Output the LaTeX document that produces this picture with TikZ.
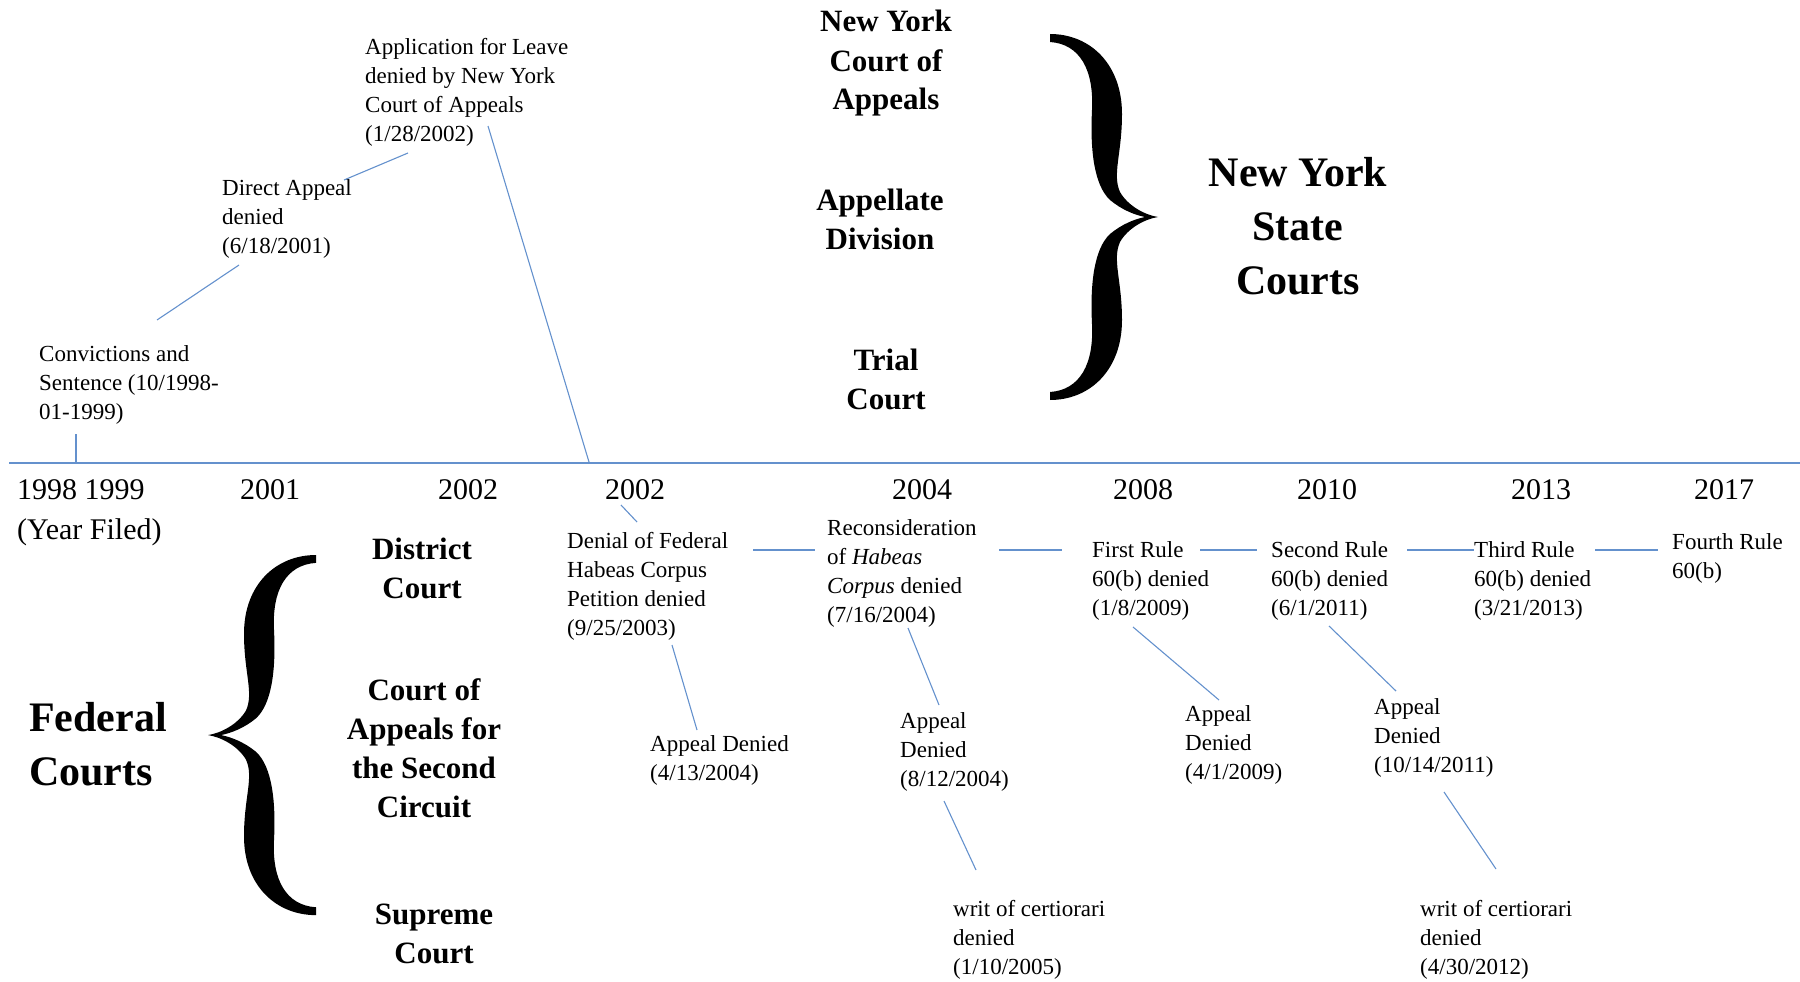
\documentclass[tikz,border=0pt]{standalone}
\usepackage{fontspec}
\setmainfont{Liberation Serif}
\definecolor{lineblue}{RGB}{100,145,205}
\begin{document}
\begin{tikzpicture}[x=1pt,y=-1pt,
  ev/.style={anchor=base west, align=left, inner sep=0pt, font=\fontsize{23}{29}\selectfont},
  yr/.style={anchor=base, inner sep=0pt, font=\fontsize{30}{38}\selectfont},
  yrl/.style={anchor=base west, align=left, inner sep=0pt, font=\fontsize{30}{40}\selectfont},
  crt/.style={anchor=base, align=center, inner sep=0pt, font=\bfseries\fontsize{31}{39}\selectfont},
  big/.style={anchor=base, align=center, inner sep=0pt, font=\bfseries\fontsize{42}{54}\selectfont},
  conn/.style={draw=lineblue, line width=1.1pt},
  axis/.style={draw=lineblue, line width=1.6pt},
  bracefill/.style={fill=black, draw=none},
]
\useasboundingbox (0,0) rectangle (1800,982);

% ---------- braces ----------
\def\bracepath{(0,0)
 .. controls (40,0) and (72,30) .. (72,80)
 .. controls (72,120) and (62,140) .. (70,158)
 .. controls (78,172) and (95,181) .. (108,183)
 .. controls (95,185) and (78,194) .. (70,208)
 .. controls (62,226) and (72,246) .. (72,286)
 .. controls (72,336) and (40,366) .. (0,366)
 -- (0,358)
 .. controls (30,356) and (44,330) .. (42,290)
 .. controls (40,250) and (44,215) .. (60,200)
 .. controls (72,190) and (85,185) .. (95,183)
 .. controls (85,181) and (72,176) .. (60,166)
 .. controls (44,151) and (40,116) .. (42,76)
 .. controls (44,36) and (30,10) .. (0,8)
 -- cycle}
\begin{scope}[shift={(1050,34)}]
  \path[bracefill] \bracepath;
\end{scope}
\begin{scope}[shift={(316,555)}, xscale=-1, yscale=0.984]
  \path[bracefill] \bracepath;
\end{scope}

% ---------- timeline ----------
\coordinate (tl0) at (9,463);
\coordinate (tl1) at (1800,463);
\draw[axis] (tl0) -- (tl1);

% ---------- year labels (anchor = baseline of last line) ----------
\node[yrl] (y98) at (17,539) {1998 1999\\(Year Filed)};
\node[yr] (y01) at (270,499) {2001};
\node[yr] (y02a) at (468,499) {2002};
\node[yr] (y02b) at (635,499) {2002};
\node[yr] (y04) at (922,499) {2004};
\node[yr] (y08) at (1143,499) {2008};
\node[yr] (y10) at (1327,499) {2010};
\node[yr] (y13) at (1541,499) {2013};
\node[yr] (y17) at (1724,499) {2017};

% ---------- court headings ----------
\node[crt] (nyca) at (886,110) {New York\\Court of\\Appeals};
\node[crt] (appdiv) at (880,249) {Appellate\\Division};
\node[crt] (trial) at (886,409) {Trial\\Court};
\node[big] (nysc) at (1298,294) {New York\\State\\Courts};

\node[crt] (dist) at (422,598) {District\\Court};
\node[crt] (coa2) at (424,817) {Court of\\Appeals for\\the Second\\Circuit};
\node[crt] (scotus) at (434,963) {Supreme\\Court};
\node[big, anchor=base west, align=left] (fed) at (29,785) {Federal\\Courts};

% ---------- state events ----------
\node[ev] (conv) at (39,419) {Convictions and\\Sentence (10/1998-\\01-1999)};
\node[ev] (direct) at (222,253) {Direct Appeal\\denied\\(6/18/2001)};
\node[ev] (leave) at (365,141) {Application for Leave\\denied by New York\\Court of Appeals\\(1/28/2002)};

% ---------- federal events ----------
\node[ev] (denial) at (567,635) {Denial of Federal\\Habeas Corpus\\Petition denied\\(9/25/2003)};
\node[ev] (ap1) at (650,780) {Appeal Denied\\(4/13/2004)};
\node[ev] (recon) at (827,622) {Reconsideration\\of \textit{Habeas}\\\textit{Corpus} denied\\(7/16/2004)};
\node[ev] (ap2) at (900,786) {Appeal\\Denied\\(8/12/2004)};
\node[ev] (writ1) at (953,974) {writ of certiorari\\denied\\(1/10/2005)};
\node[ev] (r1) at (1092,615) {First Rule\\60(b) denied\\(1/8/2009)};
\node[ev] (ap3) at (1185,779) {Appeal\\Denied\\(4/1/2009)};
\node[ev] (r2) at (1271,615) {Second Rule\\60(b) denied\\(6/1/2011)};
\node[ev] (ap4) at (1374,772) {Appeal\\Denied\\(10/14/2011)};
\node[ev] (writ2) at (1420,974) {writ of certiorari\\denied\\(4/30/2012)};
\node[ev] (r3) at (1474,615) {Third Rule\\60(b) denied\\(3/21/2013)};
\node[ev] (r4) at (1672,578) {Fourth Rule\\60(b)};

% ---------- connector end points ----------
\coordinate (convA) at (76,434);   \coordinate (convB) at (76,463);
\coordinate (convC) at (157,320);  \coordinate (dirA) at (239,265);
\coordinate (dirB) at (344,180);   \coordinate (leaveA) at (408,153);
\coordinate (leaveB) at (488,126); \coordinate (axisA) at (589,462);
\coordinate (y02bA) at (621,505);  \coordinate (denA) at (637,522);
\coordinate (denB) at (672,645);   \coordinate (ap1A) at (697,730);
\coordinate (denC) at (753,550);   \coordinate (recA) at (815,550);
\coordinate (recB) at (999,550);   \coordinate (r1A) at (1062,550);
\coordinate (r1B) at (1200,550);   \coordinate (r2A) at (1257,550);
\coordinate (r2B) at (1407,550);   \coordinate (r3A) at (1474,550);
\coordinate (r3B) at (1595,550);   \coordinate (r4A) at (1658,550);
\coordinate (recC) at (908,628);   \coordinate (ap2A) at (939,705);
\coordinate (ap2B) at (944,801);   \coordinate (w1A) at (976,870);
\coordinate (r1C) at (1133,627);   \coordinate (ap3A) at (1219,700);
\coordinate (r2C) at (1329,626);   \coordinate (ap4A) at (1396,691);
\coordinate (ap4B) at (1444,792);  \coordinate (w2A) at (1496,869);

% ---------- connectors ----------
\draw[conn] (convA) -- (convB);
\draw[conn] (convC) -- (dirA);
\draw[conn] (dirB) -- (leaveA);
\draw[conn] (leaveB) -- (axisA);
\draw[conn] (y02bA) -- (denA);
\draw[conn] (denB) -- (ap1A);
\draw[conn] (denC) -- (recA);
\draw[conn] (recB) -- (r1A);
\draw[conn] (r1B) -- (r2A);
\draw[conn] (r2B) -- (r3A);
\draw[conn] (r3B) -- (r4A);
\draw[conn] (recC) -- (ap2A);
\draw[conn] (ap2B) -- (w1A);
\draw[conn] (r1C) -- (ap3A);
\draw[conn] (r2C) -- (ap4A);
\draw[conn] (ap4B) -- (w2A);
\end{tikzpicture}
\end{document}
